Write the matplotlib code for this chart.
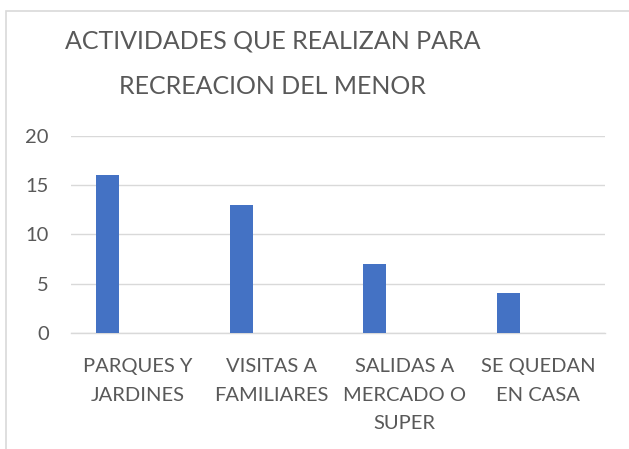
import matplotlib
matplotlib.use('Agg')
import matplotlib.pyplot as plt
from matplotlib.patches import Rectangle
import numpy as np

# datos de la grafica
categorias = ['PARQUES Y\nJARDINES', 'VISITAS A\nFAMILIARES', 'SALIDAS A\nMERCADO O\nSUPER', 'SE QUEDAN\nEN CASA']
valores = [16, 13, 7, 4]
titulo = ['ACTIVIDADES QUE REALIZAN PARA', 'RECREACION DEL MENOR']
yticks = [0, 5, 10, 15, 20]

plt.rcParams['font.family'] = ['Lato', 'DejaVu Sans']
gris_texto = '#595959'
gris_linea = '#D9D9D9'

W, H = 629, 449
fig = plt.figure(figsize=(W / 100, H / 100), dpi=100)
ax = fig.add_axes([71 / W, (H - 332.7) / H, (605 - 71) / W, (332.7 - 136) / H])

x = np.arange(len(categorias))
ax.bar(x - 0.225, valores, width=0.175, color='#4472C4', zorder=3)

ax.set_xlim(-0.5, len(categorias) - 0.5)
ax.set_ylim(0, 20)
ax.set_yticks(yticks)
ax.set_xticks(x)
ax.set_xticklabels(categorias, color=gris_texto, fontsize=14.5, linespacing=1.82)
ax.tick_params(axis='y', length=0, pad=16, labelsize=14.5, labelcolor=gris_texto)
ax.tick_params(axis='x', length=0, pad=18.5)
ax.grid(axis='y', color=gris_linea, linewidth=1, zorder=0)
for s in ['top', 'left', 'right']:
    ax.spines[s].set_visible(False)
ax.spines['bottom'].set_color(gris_linea)
ax.spines['bottom'].set_linewidth(1)

# titulo en dos lineas
fig.text(272.5 / W, 1 - 41 / H, titulo[0], ha='center', va='center', fontsize=18, color=gris_texto)
fig.text(272.5 / W, 1 - 86 / H, titulo[1], ha='center', va='center', fontsize=18, color=gris_texto)

# borde del area del grafico (recortado a la derecha y abajo)
fig.patches.append(Rectangle((6 / W, -0.1), 1.2, 1 - 11 / H + 0.1, transform=fig.transFigure,
                             fill=False, edgecolor=gris_linea, linewidth=1.2))

fig.savefig('out.png', dpi=100)
